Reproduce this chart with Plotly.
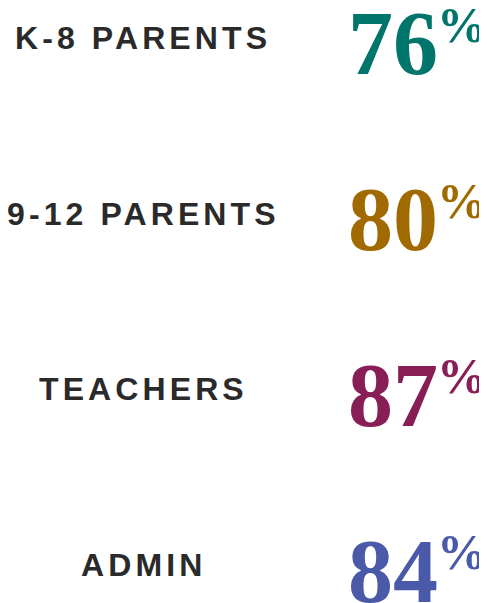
import plotly.graph_objects as go

categories = ["K-8 PARENTS", "9-12 PARENTS", "TEACHERS", "ADMIN"]
values = [76, 80, 87, 84]
value_colors = ["#00756B", "#A06A00", "#871E56", "#4A5AA8"]

# The page body keeps an 8px margin, so the figure is sized to fit inside it
PAGE_W, PAGE_H, BODY_MARGIN = 487, 603, 8
W, H = PAGE_W - BODY_MARGIN, PAGE_H - BODY_MARGIN
LABEL_X = 143
NUM_X = 440
PCT_X = 435
LABEL_COLOR = "#2A2A2A"

fig = go.Figure()
fig.add_trace(go.Scatter(
    x=values, y=categories, mode="markers",
    marker=dict(opacity=0), hoverinfo="skip", showlegend=False,
))

for cat, val, col in zip(categories, values, value_colors):
    fig.add_annotation(
        x=LABEL_X, y=cat, xref="x", yref="y",
        text=f'<span style="letter-spacing:4.1px">{cat}</span>',
        showarrow=False, xanchor="center", yanchor="middle",
        font=dict(family="Liberation Sans, Arial, sans-serif", size=32,
                  color=LABEL_COLOR, weight="bold"),
    )
    fig.add_annotation(
        x=NUM_X, y=cat, xref="x", yref="y",
        text=str(val), showarrow=False, xanchor="right", yanchor="middle",
        yshift=-6,
        font=dict(family="Liberation Serif, Times New Roman, serif", size=90,
                  color=col, weight="bold"),
    )
    fig.add_annotation(
        x=PCT_X, y=cat, xref="x", yref="y",
        text="%", showarrow=False, xanchor="left", yanchor="middle",
        yshift=13,
        font=dict(family="Liberation Serif, Times New Roman, serif", size=50,
                  color=col, weight="bold"),
    )

fig.update_layout(
    width=W, height=H,
    margin=dict(l=0, r=0, t=0, b=0),
    paper_bgcolor="white", plot_bgcolor="white",
    showlegend=False,
    xaxis=dict(range=[BODY_MARGIN, PAGE_W], visible=False, fixedrange=True),
    yaxis=dict(type="category", categoryarray=categories,
               range=[3.2143, -0.1683], visible=False, fixedrange=True),
)

fig.write_html("out.html")
